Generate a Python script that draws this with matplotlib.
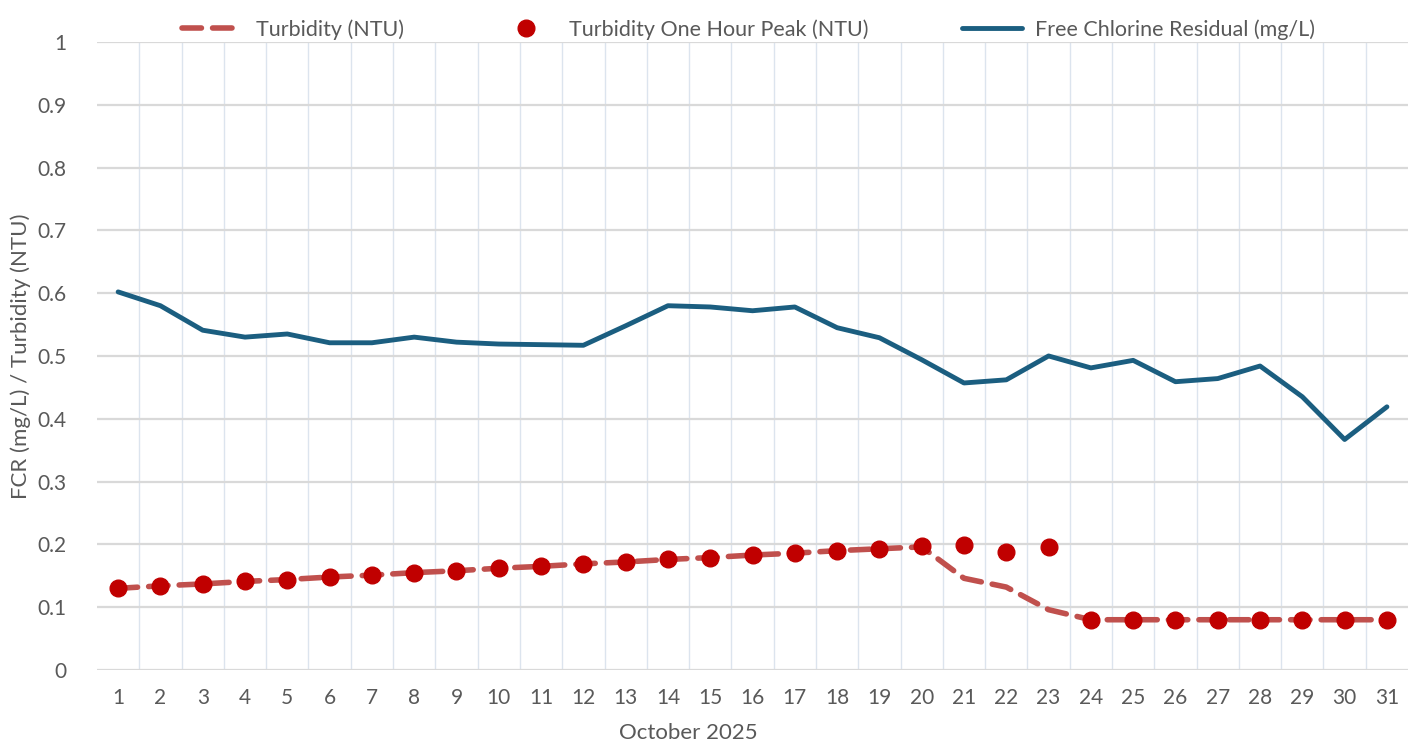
import matplotlib
matplotlib.use("Agg")
import matplotlib.pyplot as plt
import numpy as np

# data
days = list(range(1, 32))
fcr = [0.602, 0.580, 0.541, 0.530, 0.535, 0.521, 0.521, 0.530, 0.522, 0.519,
       0.518, 0.517, 0.548, 0.580, 0.578, 0.572, 0.578, 0.545, 0.529, 0.494,
       0.457, 0.462, 0.500, 0.481, 0.493, 0.459, 0.464, 0.484, 0.435, 0.367,
       0.419]
turbidity = [0.130, 0.134, 0.137, 0.141, 0.144, 0.148, 0.151, 0.155, 0.158, 0.162,
             0.165, 0.169, 0.172, 0.176, 0.179, 0.183, 0.186, 0.190, 0.193, 0.196,
             0.146, 0.132, 0.096, 0.080, 0.080, 0.080, 0.080, 0.080, 0.080, 0.080,
             0.080]
peak = [0.131, 0.134, 0.137, 0.141, 0.144, 0.148, 0.151, 0.155, 0.158, 0.162,
        0.165, 0.169, 0.172, 0.176, 0.179, 0.183, 0.186, 0.190, 0.193, 0.197,
        0.199, 0.188, 0.196, 0.080, 0.080, 0.080, 0.080, 0.080, 0.080, 0.080,
        0.080]
yticks = [0, 0.1, 0.2, 0.3, 0.4, 0.5, 0.6, 0.7, 0.8, 0.9, 1]
ytick_labels = ["0", "0.1", "0.2", "0.3", "0.4", "0.5", "0.6", "0.7", "0.8", "0.9", "1"]

plt.rcParams['font.family'] = ['Lato', 'DejaVu Sans']
txt = '#595959'

fig = plt.figure(figsize=(14.18, 7.49), dpi=100)
ax = fig.add_axes([0.0684, 0.1055, 0.9246, 0.8385])

# light vertical grid between the categories
for b in np.arange(1.5, 31.5, 1):
    ax.axvline(b, color='#DCE4EE', lw=1.0, zorder=0)
for t in yticks:
    ax.axhline(t, color='#D9D9D9', lw=1.6, zorder=0.5)

ax.plot(days, turbidity, color='#C0504D', lw=4, ls=(0, (3.5, 2)),
        dash_capstyle='round', label='Turbidity (NTU)', zorder=2)
ax.plot(days, peak, ls='none', marker='o', ms=12, color='#C00000',
        label='Turbidity One Hour Peak (NTU)', zorder=3)
ax.plot(days, fcr, color='#1B5E80', lw=3.5, solid_capstyle='round',
        solid_joinstyle='round', label='Free Chlorine Residual (mg/L)', zorder=2)

ax.set_xlim(0.5, 31.5)
ax.set_ylim(0, 1)
ax.set_xticks(days)
ax.set_xticklabels([str(d) for d in days])
ax.set_yticks(yticks)
ax.set_yticklabels(ytick_labels)
ax.tick_params(length=0, labelsize=15, colors=txt)
ax.tick_params(axis='x', pad=13)
ax.tick_params(axis='y', pad=22)
for s in ax.spines.values():
    s.set_visible(False)

ax.set_xlabel('October 2025', fontsize=16, color=txt)
ax.xaxis.set_label_coords(0.451, -0.084)
ax.set_ylabel('FCR (mg/L) / Turbidity (NTU)', fontsize=16, color=txt)
ax.yaxis.set_label_coords(-0.05, 0.5)

leg = ax.legend(loc='lower center', bbox_to_anchor=(0.497, 0.99), ncol=3,
                frameon=False, fontsize=15.5, handlelength=2.8, handletextpad=0.6,
                columnspacing=4.3, labelcolor=txt, borderaxespad=0)

fig.savefig('out.png', dpi=100)
